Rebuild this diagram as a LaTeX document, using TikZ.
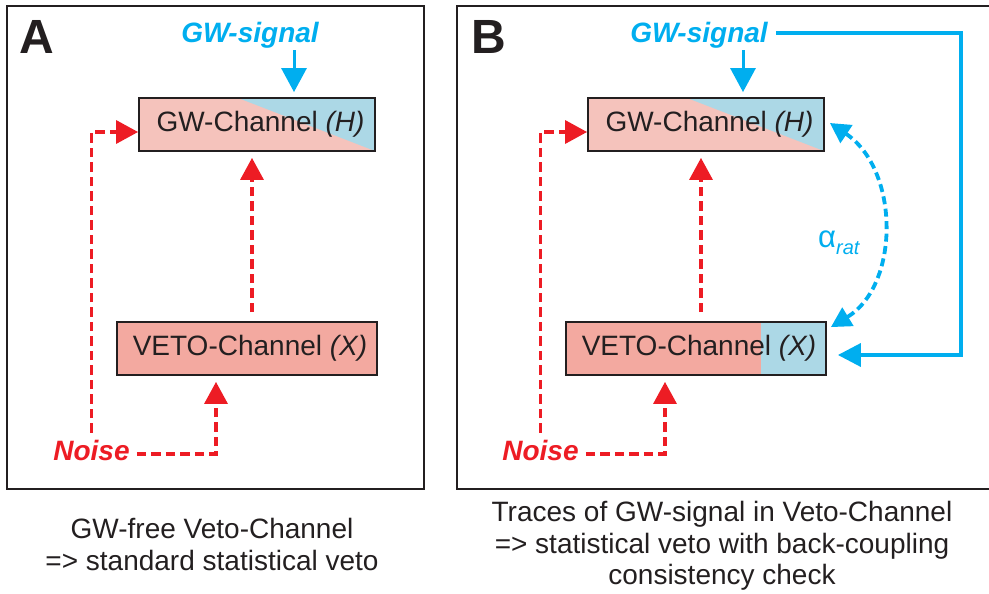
\documentclass[tikz,border=0pt]{standalone}
\usepackage{fontspec}
\setmainfont{Liberation Sans}
\usetikzlibrary{arrows.meta,calc}
\definecolor{gwred}{RGB}{237,28,36}
\definecolor{gwcyan}{RGB}{0,174,239}
\definecolor{gwpink}{RGB}{245,195,188}
\definecolor{vetosalmon}{RGB}{243,169,160}
\definecolor{gwlblue}{RGB}{172,216,230}
\definecolor{framegray}{RGB}{35,31,32}
\begin{document}
\begin{tikzpicture}[x=1pt,y=-1pt,
  frame/.style={draw=framegray,line width=2pt},
  panellabel/.style={anchor=base west,inner sep=0pt,text=framegray,font=\fontsize{48}{48}\selectfont\bfseries},
  chanbox/.style={draw=framegray,line width=1.8pt,minimum height=53pt,inner sep=0pt,text=framegray,font=\fontsize{28}{32}\selectfont},
  gwbox/.style={chanbox,fill=gwpink,minimum width=236pt,
    path picture={\fill[gwlblue] ($(path picture bounding box.north west)!0.42!(path picture bounding box.north east)$) -- (path picture bounding box.north east) -- (path picture bounding box.south east) -- cycle;}},
  vetoboxA/.style={chanbox,fill=vetosalmon,minimum width=260pt},
  vetoboxB/.style={chanbox,fill=vetosalmon,minimum width=260pt,
    path picture={\fill[gwlblue] ($(path picture bounding box.north west)!0.75!(path picture bounding box.north east)$) rectangle (path picture bounding box.south east);}},
  sigtext/.style={anchor=base,inner sep=0pt,text=gwcyan,font=\fontsize{28}{32}\selectfont\bfseries\itshape},
  noisetext/.style={anchor=base,inner sep=0pt,text=gwred,font=\fontsize{28}{32}\selectfont\bfseries\itshape},
  caption/.style={anchor=north,inner sep=0pt,align=center,text=framegray,font=\fontsize{28}{31.5}\selectfont},
  redarrow/.style={draw=gwred,line width=3.3pt,dash pattern=on 9.5pt off 5pt,-{Triangle[length=22pt,width=23pt]}},
  bluearrow/.style={draw=gwcyan,line width=3pt,-{Triangle[length=24pt,width=25pt]}},
  bluesolid/.style={draw=gwcyan,line width=3.6pt,-{Triangle[length=23pt,width=23pt]}},
  bluedash/.style={draw=gwcyan,line width=3.8pt,dash pattern=on 8pt off 4.5pt,{Triangle[length=20pt,width=21pt]}-{Triangle[length=20pt,width=21pt]}}
]
\useasboundingbox (0,0) rectangle (989,594);
\clip (0,0) rectangle (989,594);

% ---------- Panel A ----------
\draw[frame] (7,6) rectangle (424,489);
\node[panellabel] (labA) at (19,54) {A};
\node[sigtext] (sigA) at (250,43) {GW-signal};
\node[gwbox] (gwA) at (257,124.5) {\hspace*{7pt}GW-Channel \textit{(H)}};
\node[vetoboxA] (vetoA) at (247,348.5) {\hspace*{6pt}VETO-Channel \textit{(X)}};
\node[noisetext] (noiseA) at (91.5,460) {Noise};

\draw[bluearrow] ($(sigA.south)+(44,1)$) -- ($(gwA.north)+(37,-5)$);
\draw[redarrow] ($(noiseA.north)+(0,-7)$) |- ($(gwA.west)+(0,7.5)$);
\draw[redarrow] ($(noiseA.base east)+(7,-6)$) -| ($(vetoA.south)+(-31,6)$);
\draw[redarrow] ($(vetoA.north)+(5,-9)$) -- ($(gwA.south)+(-5,6)$);

\node[caption] (capA) at (212,518.5) {GW-free Veto-Channel\\=> standard statistical veto};

% ---------- Panel B ----------
\draw[frame] (457,6) rectangle (1000,489);
\node[panellabel] (labB) at (471,54) {B};
\node[sigtext] (sigB) at (699,43) {GW-signal};
\node[gwbox] (gwB) at (706,124.5) {\hspace*{7pt}GW-Channel \textit{(H)}};
\node[vetoboxB] (vetoB) at (696,348.5) {\hspace*{6pt}VETO-Channel \textit{(X)}};
\node[noisetext] (noiseB) at (540.5,460) {Noise};

\draw[bluearrow] ($(sigB.south)+(44,1)$) -- ($(gwB.north)+(37,-5)$);
\draw[bluesolid] ($(sigB.base east)+(8,-10)$) -| ($(vetoB.east)+(134,6.5)$) -- ($(vetoB.east)+(11,6.5)$);
\draw[redarrow] ($(noiseB.north)+(0,-7)$) |- ($(gwB.west)+(0,7.5)$);
\draw[redarrow] ($(noiseB.base east)+(7,-6)$) -| ($(vetoB.south)+(-31,6)$);
\draw[redarrow] ($(vetoB.north)+(5,-9)$) -- ($(gwB.south)+(-5,6)$);
\draw[bluedash] ($(gwB.east)+(5,-1.5)$) .. controls (900,170) and (900,285) .. ($(vetoB.north east)+(4,6)$);
\node[anchor=base west,inner sep=0pt,text=gwcyan,font=\fontsize{31}{32}\selectfont] (alpha) at (818,247) {α\raisebox{-7pt}{\fontsize{20}{20}\selectfont\itshape rat}};

\node[caption] (capB) at (722,501.5) {Traces of GW-signal in Veto-Channel\\=> statistical veto with back-coupling\\consistency check};
\end{tikzpicture}
\end{document}
